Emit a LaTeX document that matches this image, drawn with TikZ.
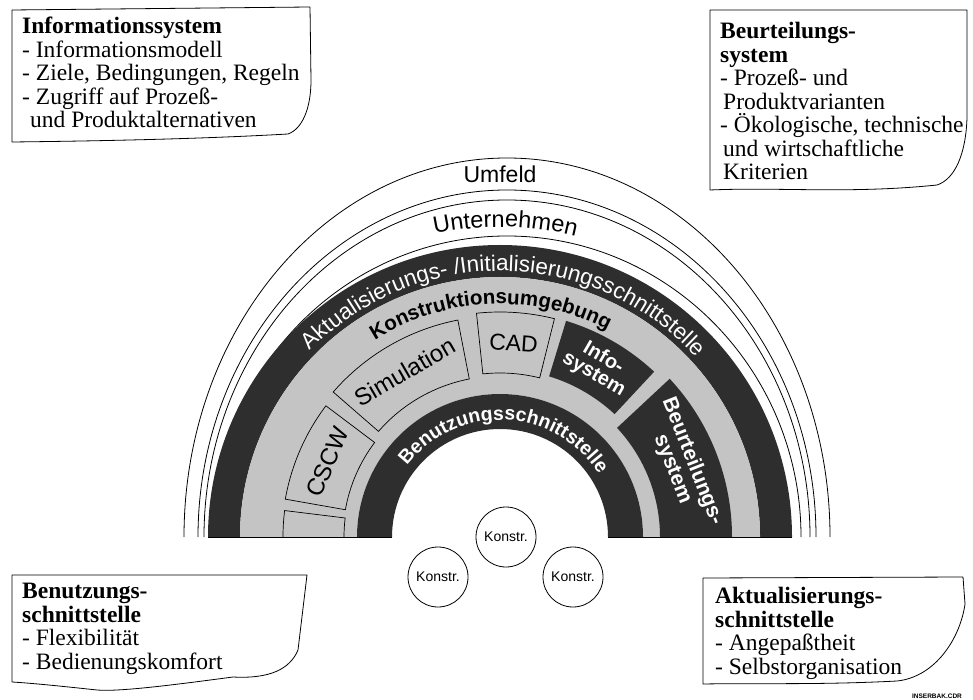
\documentclass[tikz,border=0pt]{standalone}
\usepackage{fontspec}
\setmainfont{Liberation Serif}
\setsansfont{Liberation Sans}
\usetikzlibrary{decorations.text}
\definecolor{bandlight}{HTML}{C4C4C4}
\definecolor{banddark}{HTML}{2E2E2E}
\begin{document}
\begin{tikzpicture}[x=1pt,y=1pt,
  cornerbox/.style={draw=black, line width=0.8pt, line join=round},
  cornertext/.style={anchor=north west, inner sep=0pt, align=left,
    font=\fontsize{23.5}{23.5}\selectfont},
  ring/.style={draw=black, line width=0.8pt},
  lightseg/.style={fill=bandlight, draw=black, line width=0.7pt},
  darkseg/.style={fill=banddark},
  seglabel/.style={inner sep=0pt, align=center, font=\sffamily\fontsize{24}{24}\selectfont},
  darklabel/.style={inner sep=0pt, align=center, text=white, font=\sffamily\bfseries\fontsize{20}{19}\selectfont},
  konstr/.style={circle, draw=black, line width=0.8pt, minimum size=60pt, inner sep=0pt,
    font=\sffamily\fontsize{14}{14}\selectfont},
]
\useasboundingbox (0,0) rectangle (973,699);

% ---- outer rings: Umfeld and Unternehmen ----
\begin{scope}[shift={(507,162)}]
  \draw[ring] (-323,0) arc[start angle=180, end angle=0, x radius=323, y radius=379];
  \draw[ring] (-309,0) arc[start angle=180, end angle=0, x radius=309, y radius=347];
  \draw[ring] (-303,0) arc[start angle=180, end angle=0, x radius=303, y radius=337];
  \draw[ring] (-294,0) arc[start angle=180, end angle=0, x radius=294, y radius=301];
\end{scope}
\node[anchor=base, inner sep=0pt, font=\sffamily\fontsize{23}{23}\selectfont] (umfeld) at (500,516) {Umfeld};

% ---- inner bands ----
\begin{scope}[shift={(500,162)}]
  \fill[banddark] (-292,0) arc[start angle=180, end angle=0, radius=292]
     -- (260,0) arc[start angle=0, end angle=180, radius=260] -- cycle;
  \fill[bandlight] (-260,0) arc[start angle=180, end angle=0, radius=260]
     -- (143,0) arc[start angle=0, end angle=180, radius=143] -- cycle;
  \fill[banddark] (-143,0) arc[start angle=180, end angle=0, radius=143]
     -- (108,0) arc[start angle=0, end angle=180, radius=108] -- cycle;
  % lower edge of the bands
  \draw[black, line width=1pt] (-292,0) -- (-108,0);
  \draw[black, line width=1pt] (108,0) -- (292,0);

  % segments of the Konstruktionsumgebung
  \draw[black, line width=0.7pt] (180:217) arc[start angle=180, end angle=173, radius=217]
     -- (173:156) arc[start angle=173, end angle=180, radius=156];
  \draw[lightseg] (143:218) arc[start angle=143, end angle=170, radius=218]
     -- (170:157) arc[start angle=170, end angle=143, radius=157] -- cycle;
  \draw[lightseg] (101:221) arc[start angle=101, end angle=139, radius=221]
     -- (139:161) arc[start angle=139, end angle=101, radius=161] -- cycle;
  \draw[lightseg] (76:225) arc[start angle=76, end angle=96, radius=225]
     -- (96:164) arc[start angle=96, end angle=76, radius=164] -- cycle;
  \fill[darkseg] (47:226) arc[start angle=47, end angle=73, radius=226]
     -- (73:168) arc[start angle=73, end angle=47, radius=168] -- cycle;
  \fill[darkseg] (0:232) arc[start angle=0, end angle=43, radius=232]
     -- (43:160) arc[start angle=43, end angle=0, radius=160] -- cycle;

  \node[seglabel, rotate=66.5] (cscw) at (156.5:188) {CSCW};
  \node[seglabel, rotate=30] (sim) at (120:191) {Simulation};
  \node[seglabel, rotate=-4, font=\sffamily\fontsize{23}{23}\selectfont] (cad) at (86:194) {CAD};
  \node[darklabel, rotate=-30] (info) at (60:197) {Info-\\system};
  \node[darklabel, rotate=-68.5, font=\sffamily\bfseries\fontsize{21}{21}\selectfont] (beur) at (21.5:196) {Beurteilungs-\\system};

  % texts running along the rings
  \path[decorate, decoration={text along path, text align=center,
      text={|\sffamily\fontsize{23.5}{23.5}\selectfont|Unternehmen}}]
    (179:310) arc[start angle=179, end angle=-1, radius=310];
  \path[decorate, decoration={text along path, text align=center,
      text={|\sffamily\fontsize{22.5}{22.5}\selectfont\color{white}|Aktualisierungs- /Initialisierungsschnittstelle}}]
    (179:266) arc[start angle=179, end angle=-1, radius=266];
  \path[decorate, decoration={text along path, text align=center,
      text={|\sffamily\bfseries\fontsize{20.5}{20.5}\selectfont|Konstruktionsumgebung}}]
    (182.5:233) arc[start angle=182.5, end angle=2.5, radius=233];
  \path[decorate, decoration={text along path, text align=center,
      text={|\sffamily\bfseries\fontsize{19.5}{19.5}\selectfont\color{white}|Benutzungsschnittstelle}}]
    (177.5:117) arc[start angle=177.5, end angle=-2.5, radius=117];
\end{scope}

% ---- designers ----
\node[konstr] (k1) at (506,162) {Konstr.};
\node[konstr] (k2) at (438,122) {Konstr.};
\node[konstr] (k3) at (573,122) {Konstr.};

% ---- corner notes ----
\draw[cornerbox] (12,689) -- (310,692) -- (311,619)
   .. controls (311,590) and (302,570) .. (288,565)
   .. controls (200,560) and (100,558) .. (12,557) -- cycle;
\node[cornertext] (tl) at (22,682) {\textbf{Informationssystem}\\- Informationsmodell\\- Ziele, Bedingungen, Regeln\\- Zugriff auf Prozeß-\\\hspace*{8pt}und Produktalternativen};

\draw[cornerbox] (710,689) -- (967,689) -- (967,582)
   .. controls (966,545) and (955,520) .. (937,514)
   .. controls (850,505) and (780,512) .. (710,509) -- cycle;
\node[cornertext] (tr) at (720,677) {\textbf{Beurteilungs-}\\\textbf{system}\\- Prozeß- und\\\hspace*{3pt}Produktvarianten\\- Ökologische, technische\\\hspace*{3pt}und wirtschaftliche\\\hspace*{3pt}Kriterien};

\draw[cornerbox] (12,124) -- (307,124) -- (298,49)
   .. controls (290,30) and (270,20) .. (233,22)
   .. controls (180,15) and (120,7) .. (97,9)
   .. controls (60,13) and (30,16) .. (12,17) -- cycle;
\node[cornertext] (bl) at (22,116) {\textbf{Benutzungs-}\\\textbf{schnittstelle}\\- Flexibilität\\- Bedienungskomfort};

\draw[cornerbox] (703,121) -- (963,122) -- (965,95)
   .. controls (960,60) and (935,22) .. (897,18)
   .. controls (820,14) and (760,16) .. (703,15) -- cycle;
\node[cornertext] (br) at (715,112) {\textbf{Aktualisierungs-}\\\textbf{schnittstelle}\\- Angepaßtheit\\- Selbstorganisation};

\node[anchor=base, inner sep=0pt, font=\sffamily\bfseries\fontsize{6.5}{6.5}\selectfont] (tag) at (937,1) {INSERBAK.CDR};
\end{tikzpicture}
\end{document}
